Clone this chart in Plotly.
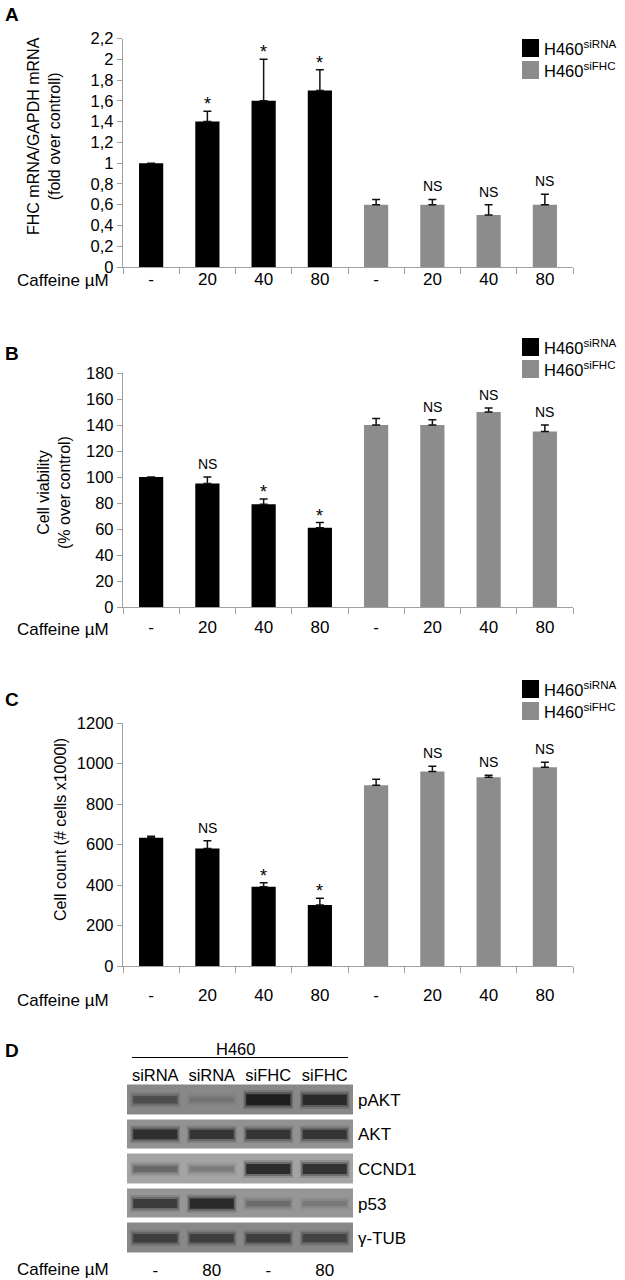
import plotly.graph_objects as go

W, H = 625, 1280


def px(x):
    return x / W


def py(y):
    return 1 - y / H


# ---------------- data ----------------
categories = ["siRNA -", "siRNA 20", "siRNA 40", "siRNA 80",
              "siFHC -", "siFHC 20", "siFHC 40", "siFHC 80"]
caffeine_labels = ["-", "20", "40", "80", "-", "20", "40", "80"]
series_names = ["H460<sup>siRNA</sup>", "H460<sup>siFHC</sup>"]

# Panel A: FHC mRNA / GAPDH mRNA
a_sirna = [1.0, 1.4, 1.6, 1.7]
a_sirna_err = [0.0, 0.1, 0.4, 0.2]
a_sifhc = [0.6, 0.6, 0.5, 0.6]
a_sifhc_err = [0.05, 0.05, 0.1, 0.1]
a_sig = ["", "*", "*", "*", "", "NS", "NS", "NS"]
a_tickvals = [0, 0.2, 0.4, 0.6, 0.8, 1.0, 1.2, 1.4, 1.6, 1.8, 2.0, 2.2]
a_ticktext = ["0", "0,2", "0,4", "0,6", "0,8", "1", "1,2", "1,4", "1,6", "1,8", "2", "2,2"]

# Panel B: cell viability
b_sirna = [100, 95, 79, 61]
b_sirna_err = [0, 5, 4, 4]
b_sifhc = [140, 140, 150, 135]
b_sifhc_err = [5, 4, 3, 5]
b_sig = ["", "NS", "*", "*", "", "NS", "NS", "NS"]
b_tickvals = [0, 20, 40, 60, 80, 100, 120, 140, 160, 180]

# Panel C: cell count
c_sirna = [633, 580, 391, 301]
c_sirna_err = [8, 38, 20, 34]
c_sifhc = [892, 961, 932, 981]
c_sifhc_err = [30, 25, 10, 25]
c_sig = ["", "NS", "*", "*", "", "NS", "NS", "NS"]
c_tickvals = [0, 200, 400, 600, 800, 1000, 1200]

# Panel D: western blot (band intensity 0..1 per lane)
lane_labels = ["siRNA", "siRNA", "siFHC", "siFHC"]
lane_caffeine = ["-", "80", "-", "80"]
proteins = ["pAKT", "AKT", "CCND1", "p53", "γ-TUB"]
strip_gray = [136, 146, 164, 150, 136]
band_intensity = [
    [0.55, 0.2, 1.0, 0.9],
    [0.85, 0.8, 0.8, 0.8],
    [0.45, 0.3, 0.9, 0.85],
    [0.75, 0.9, 0.35, 0.25],
    [0.7, 0.7, 0.7, 0.65],
]

FONT = "Arial, Liberation Sans, sans-serif"
BLACK = "#000000"
GRAY = "#8c8c8c"
AXIS = "#a0a0a0"

fig = go.Figure()

panels = [
    dict(x="x", y="y", sirna=a_sirna, sirna_err=a_sirna_err, sifhc=a_sifhc,
         sifhc_err=a_sifhc_err, sig=a_sig),
    dict(x="x2", y="y2", sirna=b_sirna, sirna_err=b_sirna_err, sifhc=b_sifhc,
         sifhc_err=b_sifhc_err, sig=b_sig),
    dict(x="x3", y="y3", sirna=c_sirna, sirna_err=c_sirna_err, sifhc=c_sifhc,
         sifhc_err=c_sifhc_err, sig=c_sig),
]

annotations = []
for p in panels:
    for name, vals, errs, cats, col in [
        (series_names[0], p["sirna"], p["sirna_err"], categories[:4], BLACK),
        (series_names[1], p["sifhc"], p["sifhc_err"], categories[4:], GRAY),
    ]:
        fig.add_trace(go.Bar(
            x=cats, y=vals, name=name, width=0.43,
            marker=dict(color=col, line=dict(width=0)),
            error_y=dict(type="data", symmetric=False, array=errs,
                         arrayminus=[0] * len(errs), color="#111111",
                         thickness=1.5, width=4),
            xaxis=p["x"], yaxis=p["y"], showlegend=False,
        ))
    tops = [v + e for v, e in zip(p["sirna"] + p["sifhc"], p["sirna_err"] + p["sifhc_err"])]
    for cat, top, s in zip(categories, tops, p["sig"]):
        if not s:
            continue
        annotations.append(dict(
            x=cat, y=top, xref=p["x"], yref=p["y"], text=s, showarrow=False,
            yanchor="bottom", yshift=-5 if s == "*" else 3,
            font=dict(size=18 if s == "*" else 14, color="#000"),
        ))

# ---------------- panel D traces ----------------
lanes = list(range(len(lane_labels)))
fig.add_trace(go.Heatmap(
    z=[[g] * len(lanes) for g in strip_gray], x=lanes, y=list(range(len(proteins))),
    colorscale=[[0, "rgb(0,0,0)"], [1, "rgb(255,255,255)"]], zmin=0, zmax=255,
    showscale=False, ygap=5, xgap=0, hoverinfo="skip", xaxis="x4", yaxis="y4",
))
for i, row in enumerate(band_intensity):
    bg = strip_gray[i]
    for j, t in enumerate(row):
        g = int(round(bg - t * (bg - 30)))
        thick = 3 + 8 * t
        for extra, alpha, half in [(8, 0.18, 0.44), (4, 0.35, 0.42), (0, 1.0, 0.39)]:
            fig.add_trace(go.Scatter(
                x=[j - half, j + half], y=[i, i], mode="lines",
                line=dict(color=f"rgba({g},{g},{g},{alpha})", width=thick + extra),
                xaxis="x4", yaxis="y4", hoverinfo="skip", showlegend=False))
fig.add_trace(go.Scatter(
    x=lanes, y=[0] * len(lanes), mode="markers", marker=dict(opacity=0),
    xaxis="x5", yaxis="y4", hoverinfo="skip", showlegend=False))

# ---------------- axes ----------------
def xcat(anchor, standoff):
    return dict(
        type="category", categoryorder="array", categoryarray=categories,
        tickmode="array", tickvals=categories, ticktext=caffeine_labels,
        tickson="boundaries", ticks="outside", ticklen=6, tickcolor=AXIS,
        tickwidth=1.3, showline=True, linecolor=AXIS, linewidth=1.3,
        showgrid=False, zeroline=False, tickfont=dict(size=17, color="#000"),
        domain=[px(123), px(573)], anchor=anchor, range=[-0.5, 7.5],
        ticklabelstandoff=standoff, fixedrange=True, automargin=False,
    )


def yval(anchor, rng, dom, tv, tt):
    return dict(
        range=rng, domain=dom, tickmode="array", tickvals=tv, ticktext=tt,
        ticks="outside", ticklen=5, tickcolor=AXIS, tickwidth=1.3,
        showline=True, linecolor=AXIS, linewidth=1.3, showgrid=False,
        zeroline=False, tickfont=dict(size=16.5, color="#000"), anchor=anchor,
        fixedrange=True, automargin=False,
    )


fig.update_layout(
    xaxis=xcat("y", -4),
    yaxis=yval("x", [0, 2.2], [py(267), py(38.5)], a_tickvals, a_ticktext),
    xaxis2=xcat("y2", 4),
    yaxis2=yval("x2", [0, 180], [py(607), py(373)], b_tickvals,
                [str(v) for v in b_tickvals]),
    xaxis3=xcat("y3", 13),
    yaxis3=yval("x3", [0, 1200], [py(966), py(723)], c_tickvals,
                [str(v) for v in c_tickvals]),
    xaxis4=dict(domain=[px(127), px(353)], range=[-0.5, 3.5], anchor="y4",
                tickmode="array", tickvals=lanes, ticktext=lane_caffeine,
                showline=False, ticks="", showgrid=False, zeroline=False,
                tickfont=dict(size=17, color="#000"), ticklabelstandoff=2,
                fixedrange=True, automargin=False),
    xaxis5=dict(overlaying="x4", side="top", range=[-0.5, 3.5], anchor="y4",
                tickmode="array", tickvals=lanes, ticktext=lane_labels,
                showline=False, ticks="", showgrid=False, zeroline=False,
                tickfont=dict(size=16.5, color="#000"), ticklabelstandoff=-3,
                fixedrange=True, automargin=False),
    yaxis4=dict(domain=[py(1255.5), py(1082.5)], range=[4.5, -0.5], anchor="x4",
                side="right", tickmode="array", tickvals=list(range(len(proteins))),
                ticktext=proteins, showline=False, ticks="", showgrid=False,
                zeroline=False, tickfont=dict(size=17, color="#000"),
                ticklabelstandoff=4, fixedrange=True, automargin=False),
)

# ---------------- text / legend ----------------
for letter, yc in [("A", 14), ("B", 353), ("C", 699), ("D", 1050)]:
    annotations.append(dict(x=px(3), y=py(yc), xref="paper", yref="paper",
                            text=f"<b>{letter}</b>", showarrow=False,
                            xanchor="left", yanchor="middle",
                            font=dict(size=19, color="#000")))
for yc in [281, 629, 1000, 1269]:
    annotations.append(dict(x=px(111), y=py(yc), xref="paper", yref="paper",
                            text="Caffeine µM", showarrow=False,
                            xanchor="right", yanchor="middle",
                            font=dict(size=17, color="#000")))
for text, xc, yc in [
    ("FHC mRNA/GAPDH mRNA<br>(fold over controll)", 44, 136),
    ("Cell viability<br>(% over control)", 54, 493),
    ("Cell count (# cells x1000l)", 60, 830),
]:
    annotations.append(dict(x=px(xc), y=py(yc), xref="paper", yref="paper",
                            text=text, showarrow=False, textangle=-90,
                            xanchor="center", yanchor="middle",
                            font=dict(size=16, color="#000")))

shapes = []
for top in [39, 338, 680]:
    for k, col in enumerate([BLACK, GRAY]):
        y0 = top + k * 22
        shapes.append(dict(type="rect", xref="paper", yref="paper",
                           x0=px(522), x1=px(539), y0=py(y0 + 18), y1=py(y0),
                           fillcolor=col, line=dict(width=0)))
        annotations.append(dict(x=px(542), y=py(y0 + 9), xref="paper",
                                yref="paper", text=series_names[k],
                                showarrow=False, xanchor="left",
                                yanchor="middle",
                                font=dict(size=16.5, color="#000")))

annotations.append(dict(x=px(235), y=py(1049), xref="paper", yref="paper",
                        text="H460", showarrow=False, xanchor="center",
                        yanchor="middle", font=dict(size=16.5, color="#000")))
shapes.append(dict(type="line", xref="paper", yref="paper",
                   x0=px(132), x1=px(348), y0=py(1057.5), y1=py(1057.5),
                   line=dict(color="#000", width=1.2)))

fig.update_layout(
    width=W, height=H, margin=dict(l=0, r=0, t=0, b=0, autoexpand=False),
    paper_bgcolor="white", plot_bgcolor="white", barmode="overlay",
    showlegend=False, font=dict(family=FONT, size=16, color="#000"),
    annotations=annotations, shapes=shapes,
)

fig.write_html("out.html", config={"displayModeBar": False},
               post_script="document.body.style.margin='0px';")
